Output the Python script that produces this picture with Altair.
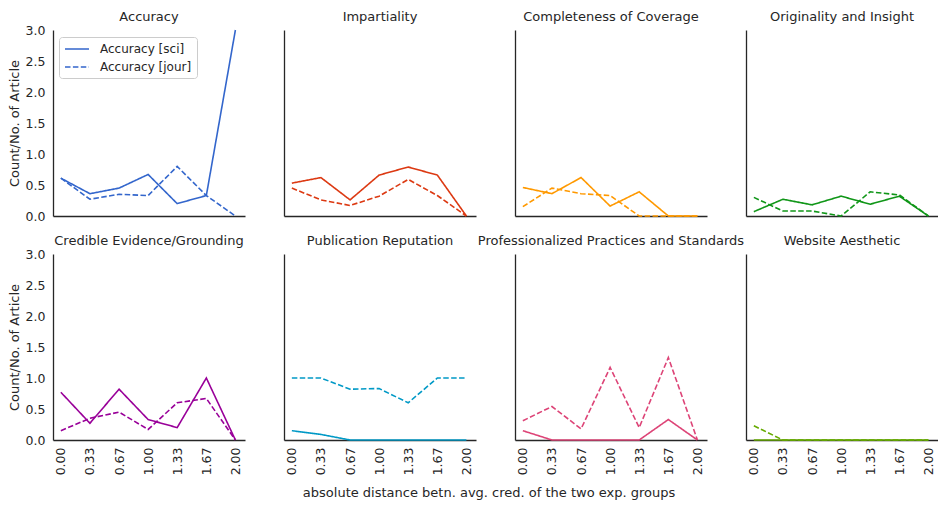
import altair as alt
import pandas as pd

x_vals = [0.0, 0.333, 0.667, 1.0, 1.333, 1.667, 2.0]

categories = [
    "Accuracy", "Impartiality", "Completeness of Coverage", "Originality and Insight",
    "Credible Evidence/Grounding", "Publication Reputation",
    "Professionalized Practices and Standards", "Website Aesthetic",
]
colors = ["#3366cc", "#dc3912", "#ff9900", "#109618",
          "#990099", "#0099c6", "#dd4477", "#66aa00"]

acc_sci = [0.61, 0.36, 0.45, 0.67, 0.20, 0.33, 3.0]
acc_jour = [0.61, 0.27, 0.35, 0.33, 0.80, 0.33, 0.0]
imp_sci = [0.53, 0.62, 0.26, 0.66, 0.79, 0.66, 0.0]
imp_jour = [0.45, 0.26, 0.17, 0.32, 0.59, 0.33, 0.0]
comp_sci = [0.46, 0.36, 0.62, 0.16, 0.39, 0.0, 0.0]
comp_jour = [0.15, 0.45, 0.36, 0.33, 0.0, 0.0, 0.0]
orig_sci = [0.07, 0.27, 0.18, 0.32, 0.19, 0.32, 0.0]
orig_jour = [0.30, 0.08, 0.08, 0.0, 0.39, 0.34, 0.0]
cred_sci = [0.77, 0.27, 0.82, 0.33, 0.20, 1.0, 0.0]
cred_jour = [0.15, 0.35, 0.45, 0.17, 0.60, 0.67, 0.0]
pub_sci = [0.15, 0.09, 0.0, 0.0, 0.0, 0.0, 0.0]
pub_jour = [1.0, 1.0, 0.82, 0.83, 0.60, 1.0, 1.0]
prof_sci = [0.15, 0.0, 0.0, 0.0, 0.0, 0.33, 0.0]
prof_jour = [0.31, 0.54, 0.18, 1.17, 0.20, 1.33, 0.0]
web_sci = [0.0, 0.0, 0.0, 0.0, 0.0, 0.0, 0.0]
web_jour = [0.23, 0.0, 0.0, 0.0, 0.0, 0.0, 0.0]

sci_series = [acc_sci, imp_sci, comp_sci, orig_sci, cred_sci, pub_sci, prof_sci, web_sci]
jour_series = [acc_jour, imp_jour, comp_jour, orig_jour, cred_jour, pub_jour, prof_jour, web_jour]

y_ticks = [0.0, 0.5, 1.0, 1.5, 2.0, 2.5, 3.0]
TXT = "#262626"
W, H = 192, 186


def panel(i):
    cat = categories[i]
    sl, jl = f"{cat} [sci]", f"{cat} [jour]"
    rows = []
    for x, v in zip(x_vals, sci_series[i]):
        rows.append({"x": x, "value": v, "label": sl})
    for x, v in zip(x_vals, jour_series[i]):
        rows.append({"x": x, "value": v, "label": jl})
    df = pd.DataFrame(rows)
    first_col = i % 4 == 0
    bottom = i >= 4
    if first_col:
        yaxis = alt.Axis(values=y_ticks, format=".1f", title="Count/No. of Article",
                         grid=False, ticks=False, labelPadding=8, titlePadding=4)
    else:
        yaxis = alt.Axis(labels=False, ticks=False, title=None, grid=False)
    if bottom:
        xaxis = alt.Axis(values=x_vals, format=".2f", labelAngle=270, labelAlign="right",
                         labelBaseline="middle", title=None, ticks=False, grid=False,
                         labelPadding=7)
    else:
        xaxis = alt.Axis(labels=False, ticks=False, title=None, grid=False)
    if i == 0:
        legend = alt.Legend(title=None, orient="none", legendX=6, legendY=7,
                            symbolType="M-1,0H3", symbolSize=144, symbolStrokeWidth=1.6,
                            symbolStrokeColor=colors[i], symbolFillColor="transparent",
                            labelFontSize=12, labelColor=TXT,
                            strokeColor="#cccccc", fillColor="white", padding=5,
                            cornerRadius=3, rowPadding=5, labelOffset=22)
    else:
        legend = None
    return alt.Chart(df).mark_line(color=colors[i], strokeWidth=1.6).encode(
        x=alt.X("x:Q", scale=alt.Scale(domain=[-0.09, 2.11], nice=False, zero=False), axis=xaxis),
        y=alt.Y("value:Q", scale=alt.Scale(domain=[0, 3], nice=False), axis=yaxis),
        strokeDash=alt.StrokeDash("label:N", scale=alt.Scale(domain=[sl, jl], range=[[1, 0], [5.5, 2.4]]),
                                  legend=legend),
    ).properties(width=W, height=H,
                 title=alt.TitleParams(cat, fontSize=13, fontWeight="normal", color=TXT,
                                       offset=0 if first_col else 6, frame="group"))


chart = alt.concat(*[panel(i) for i in range(8)], columns=4,
                   spacing={"row": 38, "column": 39}, bounds="flush").properties(
    title=alt.TitleParams("absolute distance betn. avg. cred. of the two exp. groups",
                          orient="bottom", anchor="middle", fontSize=13, fontWeight="normal",
                          color=TXT, offset=12, dx=16),
    padding={"top": 3, "left": 0, "right": 0, "bottom": 0},
).resolve_scale(
    x="independent", y="independent", strokeDash="independent"
).resolve_axis(x="independent", y="independent").resolve_legend(
    strokeDash="independent"
).configure(
    font="DejaVu Sans",
).configure_view(strokeWidth=0, stroke="transparent").configure_axis(
    domainColor=TXT, domainWidth=1.3, labelColor=TXT, labelFontSize=12.5,
    labelFont="DejaVu Sans", titleFont="DejaVu Sans", titleFontSize=13,
    titleFontWeight="normal", titleColor=TXT,
).configure_legend(labelFont="DejaVu Sans")

chart.save("out.html", embed_options={"renderer": "svg", "actions": False})
